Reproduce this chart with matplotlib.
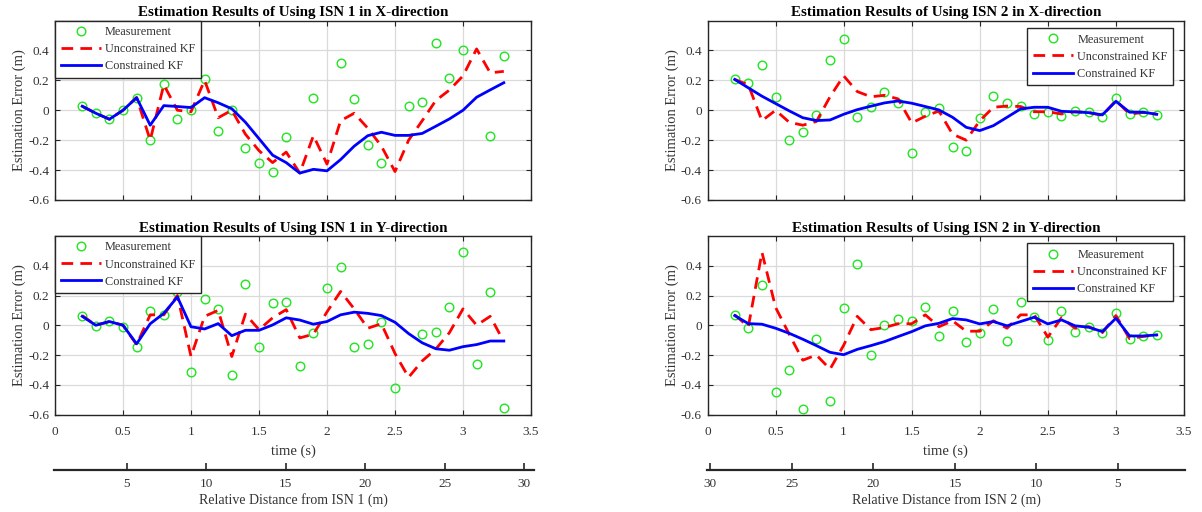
import numpy as np
import matplotlib
matplotlib.use("Agg")
import matplotlib.pyplot as plt

plt.rcParams['font.family'] = ['Liberation Serif', 'DejaVu Serif']

# Sample times (s)
time_s = [0.2, 0.3, 0.4, 0.5, 0.6, 0.7, 0.8, 0.9, 1.0, 1.1, 1.2, 1.3, 1.4, 1.5, 1.6, 1.7,
          1.8, 1.9, 2.0, 2.1, 2.2, 2.3, 2.4, 2.5, 2.6, 2.7, 2.8, 2.9, 3.0, 3.1, 3.2, 3.3]

nan = np.nan  # measurements outside the plotted range

# ISN 1, X-direction
meas_isn1_x = [0.03, -0.02, -0.06, 0.00, 0.085, -0.20, 0.175, -0.06, 0.00, 0.21, -0.14, 0.00,
               -0.255, -0.35, -0.41, -0.18, nan, 0.085, nan, 0.315, 0.075, -0.235, -0.355, nan,
               0.03, 0.055, 0.45, 0.215, 0.405, nan, -0.175, 0.365]
ukf_isn1_x = [0.027, -0.02, -0.06, 0.00, 0.085, -0.20, 0.17, 0.00, -0.01, 0.20, -0.05, 0.00,
              -0.16, -0.27, -0.35, -0.28, -0.42, -0.17, -0.36, -0.07, -0.02, -0.12, -0.24, -0.41,
              -0.20, -0.07, 0.065, 0.135, 0.23, 0.41, 0.25, 0.26]
ckf_isn1_x = [0.027, -0.02, -0.06, 0.00, 0.084, -0.10, 0.031, 0.025, 0.018, 0.084, 0.05, 0.01,
              -0.08, -0.19, -0.30, -0.35, -0.42, -0.395, -0.405, -0.33, -0.24, -0.17, -0.147, -0.168,
              -0.168, -0.155, -0.107, -0.058, 0.00, 0.087, 0.136, 0.184]

# ISN 1, Y-direction
meas_isn1_y = [0.065, -0.007, 0.027, -0.009, -0.143, 0.096, 0.069, 0.226, -0.311, 0.179, 0.11, -0.336,
               0.275, -0.143, 0.15, 0.154, -0.273, -0.05, 0.25, 0.394, -0.144, -0.126, 0.02, -0.419,
               nan, -0.061, -0.045, 0.122, 0.495, -0.261, 0.221, -0.556]
ukf_isn1_y = [0.065, 0.00, 0.025, 0.00, -0.13, 0.07, 0.07, 0.20, -0.21, 0.06, 0.10, -0.21,
              0.075, -0.03, 0.05, 0.105, -0.085, -0.06, 0.09, 0.227, 0.11, -0.02, 0.01, -0.19,
              -0.35, -0.24, -0.16, -0.05, 0.11, 0.00, 0.06, -0.11]
ckf_isn1_y = [0.06, 0.00, 0.025, 0.00, -0.125, 0.01, 0.08, 0.19, -0.01, -0.025, 0.011, -0.07,
              -0.034, -0.034, 0.002, 0.05, 0.035, 0.007, 0.025, 0.07, 0.088, 0.08, 0.065, 0.02,
              -0.056, -0.118, -0.158, -0.168, -0.144, -0.13, -0.106, -0.106]

# ISN 2, X-direction
meas_isn2_x = [0.206, 0.183, 0.30, 0.089, -0.20, -0.143, -0.031, 0.338, 0.474, -0.045, 0.025, 0.125,
               0.047, -0.286, -0.011, 0.016, -0.248, -0.27, -0.051, 0.098, 0.047, 0.031, -0.027, -0.013,
               -0.036, -0.007, -0.013, -0.045, 0.081, -0.027, -0.013, -0.029]
ukf_isn2_x = [0.206, 0.17, -0.07, 0.00, -0.08, -0.10, -0.075, 0.09, 0.23, 0.125, 0.09, 0.10,
              0.076, -0.085, -0.04, -0.005, -0.16, -0.20, -0.07, 0.02, 0.028, 0.025, -0.01, -0.01,
              -0.025, -0.01, -0.015, -0.035, 0.065, -0.025, -0.015, -0.027]
ckf_isn2_x = [0.206, 0.15, 0.094, 0.045, -0.004, -0.05, -0.069, -0.065, -0.027, 0.004, 0.027, 0.049,
              0.062, 0.047, 0.025, 0.002, -0.047, -0.114, -0.136, -0.103, -0.047, 0.009, 0.02, 0.02,
              -0.007, -0.011, -0.016, -0.031, 0.06, -0.013, -0.013, -0.027]

# ISN 2, Y-direction
meas_isn2_y = [0.07, -0.016, 0.27, -0.447, -0.303, -0.564, -0.094, -0.512, 0.119, 0.411, -0.20, 0.004,
               0.045, 0.027, 0.121, -0.072, 0.098, -0.11, -0.054, 0.112, -0.103, 0.157, 0.058, -0.099,
               0.099, -0.043, -0.009, -0.054, 0.081, -0.092, -0.072, -0.063]
ukf_isn2_y = [0.07, -0.01, 0.49, 0.12, -0.06, -0.235, -0.20, -0.295, -0.135, 0.06, -0.03, -0.015,
              0.01, 0.01, 0.07, -0.01, 0.03, -0.04, -0.04, 0.03, -0.02, 0.07, 0.07, -0.08,
              0.05, -0.02, -0.01, -0.05, 0.065, -0.09, -0.075, -0.065]
ckf_isn2_y = [0.065, 0.011, 0.007, -0.02, -0.054, -0.094, -0.137, -0.182, -0.198, -0.162, -0.137, -0.11,
              -0.076, -0.043, -0.004, 0.013, 0.045, 0.036, 0.009, 0.025, -0.004, 0.025, 0.054, 0.009,
              0.036, -0.004, -0.013, -0.043, 0.047, -0.072, -0.072, -0.065]

titles = ["Estimation Results of Using ISN 1 in X-direction",
          "Estimation Results of Using ISN 2 in X-direction",
          "Estimation Results of Using ISN 1 in Y-direction",
          "Estimation Results of Using ISN 2 in Y-direction"]
legend_labels = ["Measurement", "Unconstrained KF", "Constrained KF"]
time_ticks = [0, 0.5, 1, 1.5, 2, 2.5, 3, 3.5]
time_tick_labels = ['0', '0.5', '1', '1.5', '2', '2.5', '3', '3.5']
error_ticks = [-0.6, -0.4, -0.2, 0, 0.2, 0.4]
error_tick_labels = ['-0.6', '-0.4', '-0.2', '0', '0.2', '0.4']
dist_ticks_isn1 = [5, 10, 15, 20, 25, 30]
dist_ticks_isn2 = [30, 25, 20, 15, 10, 5]

GREEN = '#1fe61f'
RED = '#ff0000'
BLUE = '#0000ff'
TXT = '#333333'
SPINE = '#262626'

W, H = 1202, 512
fig = plt.figure(figsize=(W / 100, H / 100), dpi=100)


def px_axes(x0, y0, x1, y1):
    """Add axes given pixel box (left, top, right, bottom) measured from the top-left."""
    return fig.add_axes([x0 / W, 1 - y1 / H, (x1 - x0) / W, (y1 - y0) / H])


panels = [
    (px_axes(55, 20.5, 531, 200), meas_isn1_x, ukf_isn1_x, ckf_isn1_x, titles[0], 'left', False),
    (px_axes(707.5, 20.5, 1184, 200), meas_isn2_x, ukf_isn2_x, ckf_isn2_x, titles[1], 'right', False),
    (px_axes(55, 236, 531, 414.5), meas_isn1_y, ukf_isn1_y, ckf_isn1_y, titles[2], 'left', True),
    (px_axes(707.5, 236, 1184, 414.5), meas_isn2_y, ukf_isn2_y, ckf_isn2_y, titles[3], 'right', True),
]

legend_style = dict(borderaxespad=0, fontsize=8.8, handlelength=3.35, labelspacing=0.42,
                    handletextpad=0.3, borderpad=0.45, fancybox=False,
                    framealpha=1, edgecolor=SPINE)

for ax, meas, ukf, ckf, title, side, bottom in panels:
    ax.plot(time_s, meas, linestyle='none', marker='o', markersize=6.2,
            markerfacecolor='none', markeredgecolor=GREEN, markeredgewidth=1.0,
            label=legend_labels[0], zorder=3)
    ax.plot(time_s, ukf, color=RED, linewidth=2.0, dashes=(4.2, 2.6),
            label=legend_labels[1], zorder=4)
    ax.plot(time_s, ckf, color=BLUE, linewidth=2.0, label=legend_labels[2], zorder=5)

    ax.set_xlim(0, 3.5)
    ax.set_ylim(-0.6, 0.6)
    ax.set_xticks(time_ticks)
    ax.set_yticks(error_ticks)
    ax.set_yticklabels(error_tick_labels)
    if bottom:
        ax.set_xticklabels(time_tick_labels)
        ax.set_xlabel('time (s)', fontsize=10.5, color=TXT, labelpad=5)
    else:
        ax.set_xticklabels([])
    ax.set_ylabel('Estimation Error (m)', fontsize=10.5, color=TXT, labelpad=1.5)
    ax.set_title(title, fontsize=10.8, fontweight='bold', color='black', pad=3)

    ax.grid(True, color='#dadada', linewidth=0.9)
    ax.set_axisbelow(True)
    ax.tick_params(direction='in', length=3.5, width=0.8, top=True, right=True,
                   labelsize=9.5, labelcolor=TXT, color=SPINE)
    ax.tick_params(axis='y', pad=4)
    ax.tick_params(axis='x', pad=8.3)
    for sp in ax.spines.values():
        sp.set_color(SPINE)
        sp.set_linewidth(1.0)

    if side == 'left':
        leg = ax.legend(loc='upper left', bbox_to_anchor=(0, 1), **legend_style)
    else:
        leg = ax.legend(loc='upper right', bbox_to_anchor=(0.977, 0.958), **legend_style)
    leg.get_frame().set_linewidth(1.0)
    for txt in leg.get_texts():
        txt.set_color(TXT)

# Distance axes beneath the time axes
dist_axes = [
    (px_axes(53.5, 469, 533.5, 470), (0.38, 30.6), dist_ticks_isn1, 'Relative Distance from ISN 1 (m)'),
    (px_axes(707, 469, 1185, 470), (30.21, 0.89), dist_ticks_isn2, 'Relative Distance from ISN 2 (m)'),
]
for ax2, lim, ticks, label in dist_axes:
    ax2.patch.set_visible(False)
    for name in ('top', 'left', 'right'):
        ax2.spines[name].set_visible(False)
    ax2.spines['bottom'].set_color(SPINE)
    ax2.spines['bottom'].set_linewidth(1.6)
    ax2.set_yticks([])
    ax2.set_xlim(*lim)
    ax2.set_xticks(ticks)
    ax2.set_xticklabels([str(t) for t in ticks])
    ax2.tick_params(axis='x', direction='in', length=5, width=1.2, color=SPINE,
                    labelsize=9.5, labelcolor=TXT, pad=6)
    ax2.set_xlabel(label, fontsize=10, color=TXT, labelpad=2)

fig.savefig('out.png', dpi=100)
